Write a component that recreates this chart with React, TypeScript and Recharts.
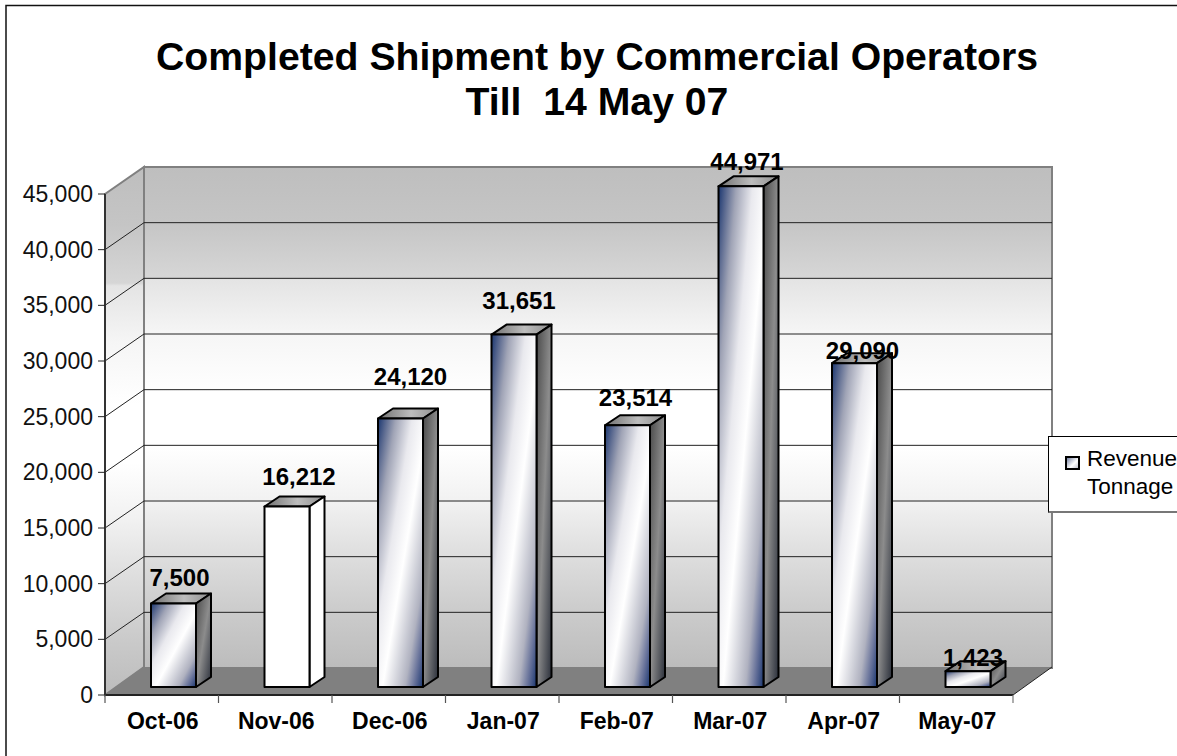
import React from 'react';
import { ComposedChart, Bar, XAxis, YAxis, CartesianGrid, LabelList, Legend } from 'recharts';

const months = ['Oct-06', 'Nov-06', 'Dec-06', 'Jan-07', 'Feb-07', 'Mar-07', 'Apr-07', 'May-07'];
const revenueTonnage = [7500, 16212, 24120, 31651, 23514, 44971, 29090, 1423];
const yTicks = [0, 5000, 10000, 15000, 20000, 25000, 30000, 35000, 40000, 45000];
const titleLines = ['Completed Shipment by Commercial Operators', 'Till  14 May 07'];
const seriesName = ['Revenue', 'Tonnage'];

// label placement as hand-nudged in the original: [dx from bar centre, gap above the bar's front top]
const labelNudge = [[6, 18], [12, 22], [10, 33], [5, 26], [8, 19], [6, 16], [8, 4], [5, 5]];

const chartData = months.map((month, i) => ({ month, tonnage: revenueTonnage[i] }));

const W = 1177, H = 756;
const L = 105, R = 1013, T = 194, B = 695;
const DX = 39, DY = 27; // wall depth
const BX = 12, BY = 8, SX = 15, SY = 10; // bar placement in depth, bar depth
const BAND = (R - L) / months.length;
const FONT = '"Liberation Sans", Arial, sans-serif';

const Defs = () => (
  <defs>
    <linearGradient id="wall" x1="0" y1="0" x2="0" y2="1">
      <stop offset="0" stopColor="#bebebe" />
      <stop offset="0.11" stopColor="#c5c5c5" />
      <stop offset="0.22" stopColor="#d6d6d6" />
      <stop offset="0.225" stopColor="#e4e4e4" />
      <stop offset="0.33" stopColor="#f5f5f5" />
      <stop offset="0.45" stopColor="#ffffff" />
      <stop offset="0.56" stopColor="#ffffff" />
      <stop offset="0.67" stopColor="#f1f1f1" />
      <stop offset="0.78" stopColor="#dddddd" />
      <stop offset="0.89" stopColor="#cbcbcb" />
      <stop offset="1" stopColor="#bcbcbc" />
    </linearGradient>
    <linearGradient id="front" x1="0" y1="0" x2="1" y2="1">
      <stop offset="0" stopColor="#1a3670" />
      <stop offset="0.1" stopColor="#5f6d92" />
      <stop offset="0.2" stopColor="#a0a4b6" />
      <stop offset="0.38" stopColor="#e9e9ee" />
      <stop offset="0.55" stopColor="#ffffff" />
      <stop offset="0.8" stopColor="#b0b2c0" />
      <stop offset="0.9" stopColor="#67729a" />
      <stop offset="1" stopColor="#1a3670" />
    </linearGradient>
    <linearGradient id="side" x1="0" y1="0" x2="1" y2="1">
      <stop offset="0" stopColor="#4a4a4a" />
      <stop offset="0.5" stopColor="#8c8c8c" />
      <stop offset="1" stopColor="#2a2f3a" />
    </linearGradient>
    <linearGradient id="top" x1="0" y1="0" x2="1" y2="0">
      <stop offset="0" stopColor="#707070" />
      <stop offset="0.55" stopColor="#bdbdbd" />
      <stop offset="1" stopColor="#8e8e8e" />
    </linearGradient>
  </defs>
);

const Frame = () => (
  <g>
    <rect x={0} y={0} width={W} height={H} fill="#fff" />
    <path d={`M6 ${H}V5.5H${W}`} fill="none" stroke="#111" strokeWidth={1.5} />
    {titleLines.map((t, i) => (
      <text key={i} x={597} y={70 + i * 45} textAnchor="middle" fontFamily={FONT} fontWeight={700} fontSize={39.2} fill="#000" style={{ whiteSpace: 'pre' }}>
        {t}
      </text>
    ))}
  </g>
);

const Walls = () => (
  <g>
    <polygon points={`${L},${T} ${L + DX},${T - DY} ${L + DX},${B - DY - 1} ${L},${B}`} fill="url(#wall)" stroke="#808080" strokeWidth={2} />
    <rect x={L + DX} y={T - DY} width={R - L} height={B - T} fill="url(#wall)" stroke="#808080" strokeWidth={2} />
    <polygon points={`${L},${B} ${L + DX},${B - DY - 1} ${R + DX},${B - DY - 1} ${R},${B}`} fill="#808080" />
    <line x1={R} y1={B} x2={R + DX} y2={B - DY - 1} stroke="#222" strokeWidth={1} />
  </g>
);

const gridLine = (p: any) => {
  if (p.y1 <= T + 1 || p.y1 >= B - 1) return <g key={p.key ?? p.index} />;
  const y = p.y1;
  return (
    <polyline
      key={p.key ?? p.index}
      points={`${p.x1},${y} ${p.x1 + DX},${y - DY} ${p.x2 + DX},${y - DY}`}
      fill="none"
      stroke="#222"
      strokeWidth={1}
    />
  );
};

const Bar3D = (p: any) => {
  const x = p.x + BX, y = p.y - BY, w = p.width, h = p.height;
  const plain = p.index === 1;
  return (
    <g stroke="#000" strokeWidth={2} strokeLinejoin="round">
      <polygon points={`${x},${y} ${x + SX},${y - SY} ${x + w + SX},${y - SY} ${x + w},${y}`} fill="url(#top)" />
      <polygon points={`${x + w},${y} ${x + w + SX},${y - SY} ${x + w + SX},${y + h - SY} ${x + w},${y + h}`} fill={plain ? '#fff' : 'url(#side)'} />
      <rect x={x} y={y} width={w} height={h} fill={plain ? '#fff' : 'url(#front)'} />
    </g>
  );
};

const DataLabel = (p: any) => {
  const [dx, gap] = labelNudge[p.index];
  return (
    <text x={p.x + BX + p.width / 2 + dx} y={p.y - BY - gap} textAnchor="middle" fontFamily={FONT} fontWeight={700} fontSize={24} fill="#000">
      {Number(p.value).toLocaleString('en-US')}
    </text>
  );
};

const MonthTick = (p: any) => {
  const x = p.x;
  return (
    <g>
      <line x1={x - BAND / 2} x2={x - BAND / 2} y1={B} y2={B + 8} stroke="#555" strokeWidth={1.2} />
      {p.index === months.length - 1 && <line x1={x + BAND / 2} x2={x + BAND / 2} y1={B} y2={B + 8} stroke="#777" strokeWidth={1.2} />}
      <text x={x + 1} y={729} textAnchor="middle" fontFamily={FONT} fontWeight={700} fontSize={23} fill="#000">
        {p.payload.value}
      </text>
    </g>
  );
};

const LegendBox = () => (
  <div style={{ position: 'relative', width: 129, height: 77, boxSizing: 'border-box', background: '#fff', border: '1px solid #000', borderBottom: '2px solid #777', borderRight: 'none', fontFamily: FONT, fontSize: 22.5, color: '#000' }}>
    <span style={{ position: 'absolute', left: 16, top: 19, width: 15, height: 14, boxSizing: 'border-box', border: '2px solid #000', background: 'linear-gradient(135deg,#7884a4,#fff 60%,#c2c4ce)' }} />
    <span style={{ position: 'absolute', left: 38, top: 8, lineHeight: '28px', whiteSpace: 'nowrap' }}>
      {seriesName[0]}
      <br />
      {seriesName[1]}
    </span>
  </div>
);

export default function App() {
  return (
    <div style={{ position: 'absolute', left: 0, top: 0, width: W, height: H, overflow: 'hidden', background: '#fff' }}>
      <ComposedChart
        width={W}
        height={H}
        data={chartData}
        margin={{ left: 5, right: W - R, top: T, bottom: 0 }}
        barSize={45}
        style={{ fontFamily: FONT }}
      >
        <Defs />
        <Frame />
        <Walls />
        <CartesianGrid zIndex={1} vertical={false} horizontal={gridLine as any} horizontalValues={yTicks} />
        <XAxis
          dataKey="month"
          height={H - B}
          interval={0}
          tick={MonthTick as any}
          tickLine={false}
          axisLine={{ stroke: '#222', strokeWidth: 2 }}
        />
        <YAxis
          width={100}
          domain={[0, 45000]}
          ticks={yTicks}
          tickFormatter={(v: number) => v.toLocaleString('en-US')}
          tick={{ fontSize: 23, fill: '#111', fontFamily: FONT }}
          tickSize={7}
          tickMargin={5}
          tickLine={{ stroke: '#222' }}
          axisLine={{ stroke: '#333', strokeWidth: 2 }}
        />
        <Bar dataKey="tonnage" name="Revenue Tonnage" shape={Bar3D as any} isAnimationActive={false}>
          <LabelList dataKey="tonnage" content={DataLabel as any} />
        </Bar>
        <Legend
          layout="horizontal"
          verticalAlign="middle"
          align="center"
          content={LegendBox as any}
          wrapperStyle={{ left: 1048, top: 436, width: 129, height: 77, margin: 0 }}
        />
      </ComposedChart>
    </div>
  );
}
